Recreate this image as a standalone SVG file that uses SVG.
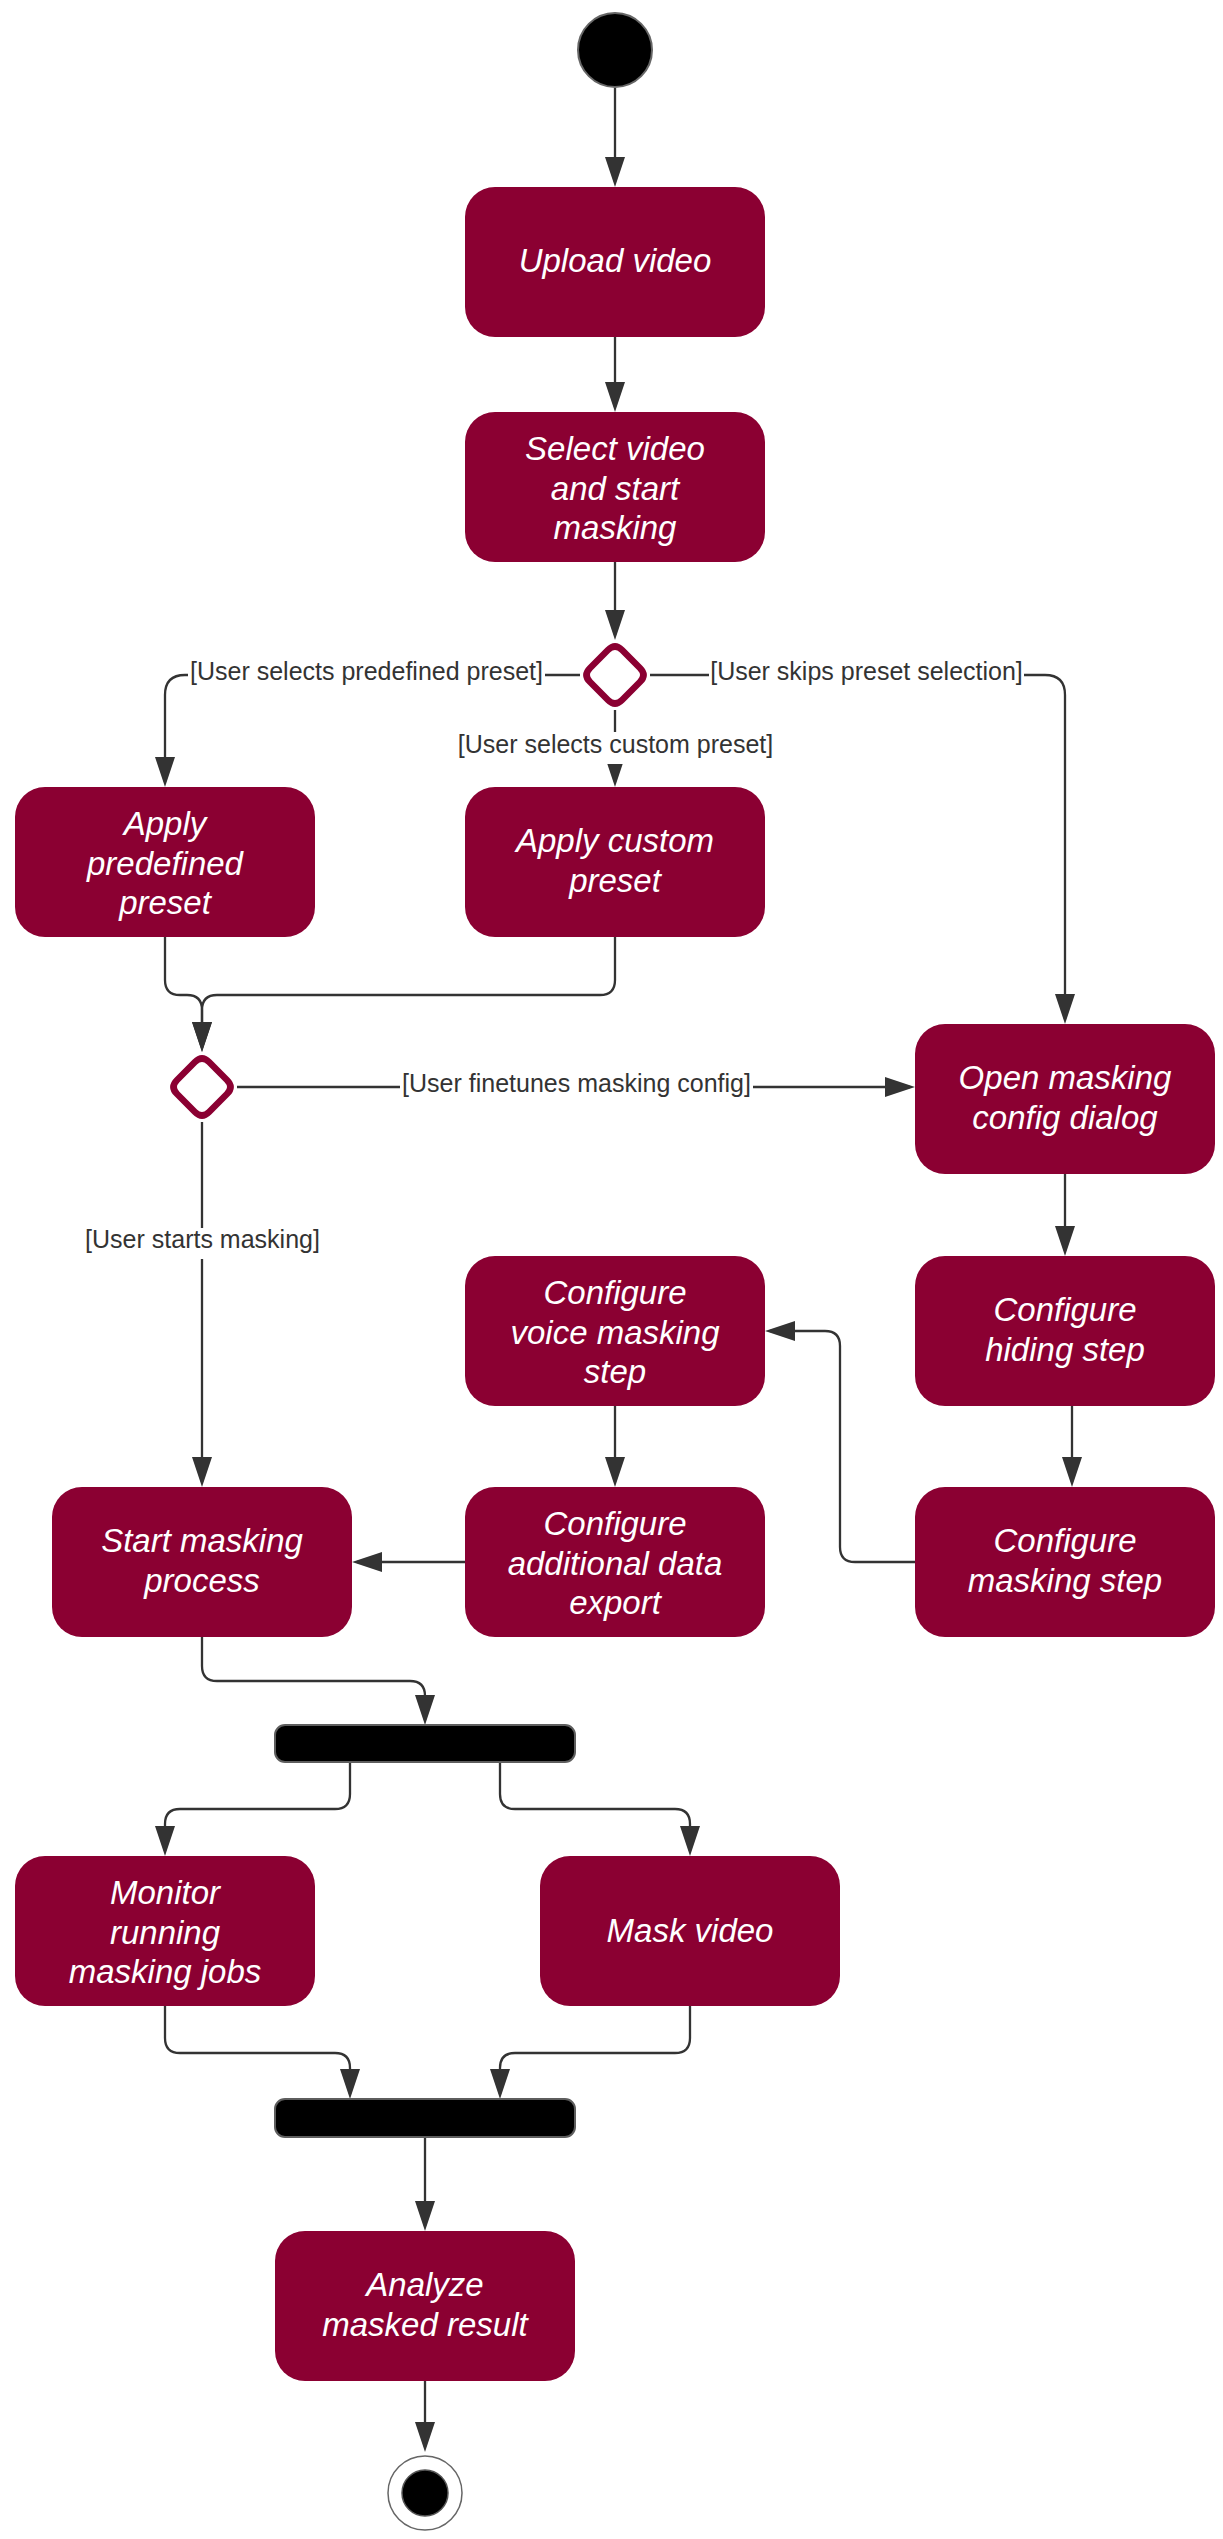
<svg xmlns="http://www.w3.org/2000/svg" width="1223" height="2539" viewBox="0 0 1223 2539">
<defs>
<style>
.box{fill:#8B0032;}
.nt{font-family:"Liberation Sans",Arial,sans-serif;font-size:33px;font-style:italic;fill:#ffffff;text-anchor:middle;}
.lbl{font-family:"Liberation Sans",Arial,sans-serif;font-size:25px;fill:#333333;text-anchor:middle;}
.lbg{fill:#ffffff;}
.edge{fill:none;stroke:#333333;stroke-width:2.3;marker-end:url(#arr);}
.dia{fill:#ffffff;stroke:#8B0032;stroke-width:6.5;}
.bar{fill:#000000;stroke:#5e5e5e;stroke-width:2;}
</style>
<marker id="arr" markerUnits="userSpaceOnUse" markerWidth="31" markerHeight="21" refX="25" refY="10" orient="auto">
<path d="M0,0 L30,10 L0,20 Z" fill="#333333"/>
</marker>
<path id="diamondShape" d="M-7.07,-24.93 Q0,-32 7.07,-24.93 L24.93,-7.07 Q32,0 24.93,7.07 L7.07,24.93 Q0,32 -7.07,24.93 L-24.93,7.07 Q-32,0 -24.93,-7.07 Z"/>
</defs>
<rect width="1223" height="2539" fill="#ffffff"/>

<g id="connectors">
<path class="edge" d="M615,88 V182"/>
<path class="edge" d="M615,337 V407"/>
<path class="edge" d="M615,562 V635"/>
<path class="edge" d="M580,675 H185 Q165,675 165,695 V782"/>
<path class="edge" d="M615,710 V782"/>
<path class="edge" d="M650,675 H1045 Q1065,675 1065,695 V1019"/>
<path class="edge" d="M165,937 V980 Q165,995 180,995 H187 Q202,995 202,1010 V1047"/>
<path class="edge" d="M615,937 V980 Q615,995 600,995 H217 Q202,995 202,1010 V1047"/>
<path class="edge" d="M237,1087 H910"/>
<path class="edge" d="M202,1122 V1482"/>
<path class="edge" d="M1065,1174 V1251"/>
<path class="edge" d="M1072,1406 V1482"/>
<path class="edge" d="M915,1562 H855 Q840,1562 840,1547 V1346 Q840,1331 825,1331 H770"/>
<path class="edge" d="M615,1406 V1482"/>
<path class="edge" d="M465,1562 H357"/>
<path class="edge" d="M202,1637 V1666 Q202,1681 217,1681 H410 Q425,1681 425,1696 V1720"/>
<path class="edge" d="M350,1762 V1794 Q350,1809 335,1809 H180 Q165,1809 165,1824 V1851"/>
<path class="edge" d="M500,1762 V1794 Q500,1809 515,1809 H675 Q690,1809 690,1824 V1851"/>
<path class="edge" d="M165,2006 V2038 Q165,2053 180,2053 H335 Q350,2053 350,2068 V2094"/>
<path class="edge" d="M690,2006 V2038 Q690,2053 675,2053 H515 Q500,2053 500,2068 V2094"/>
<path class="edge" d="M425,2137 V2226"/>
<path class="edge" d="M425,2381 V2447"/>
<g id="edge-labels">
<rect class="lbg" x="188" y="659" width="357" height="32"/>
<text class="lbl" x="366.5" y="680">[User selects predefined preset]</text>
<rect class="lbg" x="457" y="732" width="317" height="32"/>
<text class="lbl" x="615.5" y="753">[User selects custom preset]</text>
<rect class="lbg" x="709" y="659" width="315" height="32"/>
<text class="lbl" x="866.5" y="680">[User skips preset selection]</text>
<rect class="lbg" x="400" y="1071" width="353" height="32"/>
<text class="lbl" x="576.5" y="1092">[User finetunes masking config]</text>
<rect class="lbg" x="85" y="1228" width="235" height="31"/>
<text class="lbl" x="202.5" y="1248">[User starts masking]</text>
</g>
</g>

<g id="node-start">
<circle cx="615" cy="50" r="37" fill="#000000" stroke="#666666" stroke-width="2"/>
</g>
<g id="node-upload">
<rect class="box" x="465" y="187" width="300" height="150" rx="30"/>
<text class="nt" x="615" y="272">Upload video</text>
</g>
<g id="node-select">
<rect class="box" x="465" y="412" width="300" height="150" rx="30"/>
<text class="nt" x="615" y="460">Select video</text>
<text class="nt" x="615" y="499.5">and start</text>
<text class="nt" x="615" y="539">masking</text>
</g>
<g id="node-decision1">
<use href="#diamondShape" class="dia" transform="translate(615,675)"/>
</g>
<g id="node-predefined">
<rect class="box" x="15" y="787" width="300" height="150" rx="30"/>
<text class="nt" x="165" y="835">Apply</text>
<text class="nt" x="165" y="874.5">predefined</text>
<text class="nt" x="165" y="914">preset</text>
</g>
<g id="node-custom">
<rect class="box" x="465" y="787" width="300" height="150" rx="30"/>
<text class="nt" x="615" y="852">Apply custom</text>
<text class="nt" x="615" y="891.5">preset</text>
</g>
<g id="node-decision2">
<use href="#diamondShape" class="dia" transform="translate(202,1087)"/>
</g>
<g id="node-open">
<rect class="box" x="915" y="1024" width="300" height="150" rx="30"/>
<text class="nt" x="1065" y="1089">Open masking</text>
<text class="nt" x="1065" y="1128.5">config dialog</text>
</g>
<g id="node-hiding">
<rect class="box" x="915" y="1256" width="300" height="150" rx="30"/>
<text class="nt" x="1065" y="1321">Configure</text>
<text class="nt" x="1065" y="1360.5">hiding step</text>
</g>
<g id="node-voice">
<rect class="box" x="465" y="1256" width="300" height="150" rx="30"/>
<text class="nt" x="615" y="1304">Configure</text>
<text class="nt" x="615" y="1343.5">voice masking</text>
<text class="nt" x="615" y="1383">step</text>
</g>
<g id="node-start-masking">
<rect class="box" x="52" y="1487" width="300" height="150" rx="30"/>
<text class="nt" x="202" y="1552">Start masking</text>
<text class="nt" x="202" y="1591.5">process</text>
</g>
<g id="node-additional">
<rect class="box" x="465" y="1487" width="300" height="150" rx="30"/>
<text class="nt" x="615" y="1535">Configure</text>
<text class="nt" x="615" y="1574.5">additional data</text>
<text class="nt" x="615" y="1614">export</text>
</g>
<g id="node-masking-step">
<rect class="box" x="915" y="1487" width="300" height="150" rx="30"/>
<text class="nt" x="1065" y="1552">Configure</text>
<text class="nt" x="1065" y="1591.5">masking step</text>
</g>
<g id="node-fork">
<rect class="bar" x="275" y="1725" width="300" height="37" rx="10"/>
</g>
<g id="node-monitor">
<rect class="box" x="15" y="1856" width="300" height="150" rx="30"/>
<text class="nt" x="165" y="1904">Monitor</text>
<text class="nt" x="165" y="1943.5">running</text>
<text class="nt" x="165" y="1983">masking jobs</text>
</g>
<g id="node-mask-video">
<rect class="box" x="540" y="1856" width="300" height="150" rx="30"/>
<text class="nt" x="690" y="1942">Mask video</text>
</g>
<g id="node-join">
<rect class="bar" x="275" y="2099" width="300" height="38" rx="10"/>
</g>
<g id="node-analyze">
<rect class="box" x="275" y="2231" width="300" height="150" rx="30"/>
<text class="nt" x="425" y="2296">Analyze</text>
<text class="nt" x="425" y="2335.5">masked result</text>
</g>
<g id="node-end">
<circle cx="425" cy="2493" r="37" fill="#ffffff" stroke="#666666" stroke-width="1.5"/>
<circle cx="425" cy="2493" r="23" fill="#000000" stroke="#555555" stroke-width="1.5"/>
</g>
</svg>
